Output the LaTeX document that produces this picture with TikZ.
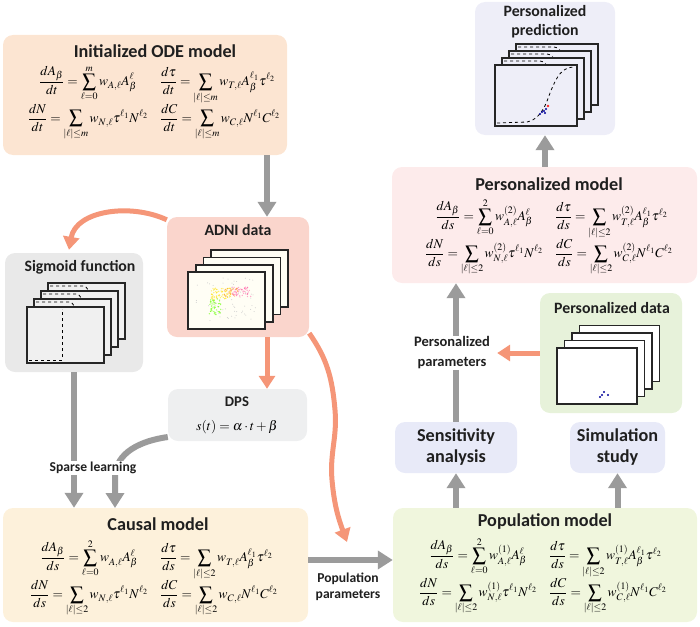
\documentclass[tikz,border=0pt]{standalone}
\usepackage{mathptmx}
\usepackage{array}
\usepackage{fontspec}
\setsansfont{Carlito}
\usepackage{tikz}
\usetikzlibrary{arrows.meta}
\usetikzlibrary{calc}
\usetikzlibrary{positioning}

\definecolor{initc}{RGB}{252,229,210}
\definecolor{adnic}{RGB}{250,213,204}
\definecolor{sigc}{RGB}{233,233,233}
\definecolor{dpsc}{RGB}{238,239,240}
\definecolor{causc}{RGB}{253,241,219}
\definecolor{popc}{RGB}{240,246,221}
\definecolor{sensc}{RGB}{232,234,248}
\definecolor{pdatac}{RGB}{231,242,218}
\definecolor{pmodc}{RGB}{253,235,235}
\definecolor{predc}{RGB}{238,238,248}
\definecolor{arrgray}{RGB}{155,155,155}
\definecolor{arrorange}{RGB}{245,150,120}

% one ODE system: time variable, bound, weight superscript
\newcommand\odesys[3]{%
  $\begin{array}{>{\displaystyle}c@{\hspace{12pt}}>{\displaystyle}l}
    \frac{dA_\beta}{d#1}=\sum_{\ell=0}^{#2} w^{#3}_{A,\ell}A_\beta^{\ell} &
    \frac{d\tau}{d#1}=\sum_{|\ell|\le #2} w^{#3}_{T,\ell}A_\beta^{\ell_1}\tau^{\ell_2}\\[9pt]
    \frac{dN}{d#1}=\sum_{|\ell|\le #2} w^{#3}_{N,\ell}\tau^{\ell_1}N^{\ell_2} &
    \frac{dC}{d#1}=\sum_{|\ell|\le #2} w^{#3}_{C,\ell}N^{\ell_1}C^{\ell_2}
  \end{array}$}

\tikzset{
  box/.style={rounded corners=10pt, inner sep=0pt},
  ttl/.style={font=\sffamily\bfseries\fontsize{18.2}{21}\selectfont, text=black!88, align=center},
  sub/.style={font=\sffamily\bfseries\fontsize{15.8}{19}\selectfont, text=black!88, align=center},
  lbl/.style={font=\sffamily\bfseries\fontsize{14}{16}\selectfont, text=black!88, align=center, fill=white, inner sep=1pt},
  eqs/.style={font=\fontsize{13.4}{15}\selectfont, inner sep=0pt},
  grayarrow/.style={draw=arrgray, line width=6pt, -{Triangle[length=15pt,width=18pt]}},
  orangearrow/.style={draw=arrorange, line width=5pt, -{Triangle[length=13pt,width=16pt]}},
  frame/.style={draw=black!85, line width=1.8pt},
}

\begin{document}
\begin{tikzpicture}[x=1pt,y=-1pt]

      \useasboundingbox (0,0) rectangle (700,626);

      % boxes
      \node [box, fill=initc, minimum width=284pt, minimum height=120pt] (init) at (145,95) {};
      \node [box, fill=adnic, minimum width=142pt, minimum height=120pt] (adni) at (238,277) {};
      \node [box, fill=sigc, minimum width=138pt, minimum height=119pt] (sigm) at (74,312.5) {};
      \node [box, fill=dpsc, minimum width=139pt, minimum height=52pt] (dps) at (237.5,415) {};
      \node [box, fill=causc, minimum width=305pt, minimum height=114pt] (causal) at (155.5,565) {};
      \node [box, fill=popc, minimum width=304pt, minimum height=114pt] (popu) at (545,565) {};
      \node [box, fill=sensc, minimum width=122pt, minimum height=51pt] (sens) at (456,447.5) {};
      \node [box, fill=sensc, minimum width=95pt, minimum height=51pt] (simu) at (617.5,447.5) {};
      \node [box, fill=pdatac, minimum width=142pt, minimum height=120pt] (pdata) at (611,353) {};
      \node [box, fill=pmodc, minimum width=305pt, minimum height=116pt] (pmodel) at (544.5,225) {};
      \node [box, fill=predc, minimum width=140pt, minimum height=133pt] (pred) at (545,68.5) {};

      % titles and equations
      \node [ttl] (initttl) at (155,51) {Initialized ODE model};
      \node [eqs] (initeq) at (154,103) {\odesys{t}{m}{}};
      \node [ttl] (causttl) at (158,524) {Causal model};
      \node [eqs] (causeq) at (154,578) {\odesys{s}{2}{}};
      \node [ttl] (popttl) at (545,522) {Population model};
      \node [eqs] (popeq) at (543,576) {\odesys{s}{2}{(1)}};
      \node [ttl] (pmodttl) at (549,184) {Personalized model};
      \node [eqs] (pmodeq) at (549,237) {\odesys{s}{2}{(2)}};
      \node [sub] (adnittl) at (238,230) {ADNI data};
      \node [sub] (sigttl) at (80,267) {Sigmoid function};
      \node [sub, font=\sffamily\bfseries\fontsize{14.7}{17}\selectfont] (dpsttl) at (237,402) {DPS};
      \node [eqs, font=\fontsize{13.5}{15}\selectfont] (dpseq) at (237,427) {$s(t)=\alpha\cdot t+\beta$};
      \node [sub] (pdatattl) at (612,308) {Personalized data};
      \node [sub, font=\sffamily\bfseries\fontsize{15.8}{19}\selectfont] (predttl) at (545,22) {Personalized\\prediction};
      \node [ttl] (sensttl) at (456,447.5) {Sensitivity\\analysis};
      \node [ttl] (simuttl) at (617.5,447.5) {Simulation\\study};

      % ADNI data frames
      \foreach \k in {3,2,1,0}
        \filldraw [frame, fill=yellow!4] ({188+7.7*\k},{272-7.3*\k}) rectangle ++(77,57);
      \pgfmathsetseed{11}
      \foreach \i in {1,...,60}
        \fill [black!20] ({226+30*rand},{300+22*rand}) circle (0.5);
      \foreach \i in {1,...,70}
        \fill [yellow!85!orange, opacity=0.6] ({221+10*rand},{294+6*rand}) circle (0.7);
      \foreach \i in {1,...,50}
        \fill [green!60!yellow, opacity=0.6] ({215+6*rand},{307+8*rand}) circle (0.7);
      \foreach \i in {1,...,55}
        \fill [red!55!magenta!70, opacity=0.5] ({241+10*rand},{292+5*rand}) circle (0.7);
      \foreach \i in {1,...,25}
        \fill [orange!80, opacity=0.6] ({231+7*rand},{292+5*rand}) circle (0.7);

      % sigmoid frames
      \foreach \k in {3,2,1} {
        \filldraw [frame, fill=black!6] ({27+7*\k},{307-8*\k}) rectangle ++(77,56);
        \draw [dashed, thick] ({29+7*\k},{310-8*\k}) -- ++(33,0) to[out=0,in=90] ++(6,10);
      }
      \filldraw [frame, fill=black!6] (27,307) rectangle ++(77,56);
      \draw [dashed, thick] (29,360) -- (62,360) -- (62,309);

      % prediction frames
      \foreach \k in {3,2,1} {
        \filldraw [frame, fill=predc] ({495+7*\k},{65-7*\k}) rectangle ++(82,61);
        \draw [dashed, thick] ({497+7*\k},{68-7*\k}) -- ++(36,0) to[out=0,in=100] ++(8,9);
      }
      \filldraw [frame, fill=predc] (495,65) rectangle ++(82,61);
      \draw [dashed, thick] (497,123) -- (527,122)
        .. controls (545,118) and (548,95) .. (553,86)
        .. controls (559,72) and (565,67) .. (575,67);
      \foreach \p in {(540,114),(542,112),(544,111),(545,113),(546,109)}
        \fill [blue!60!black] \p circle (1.1);
      \fill [red!85] (548,106) circle (1.4);

      % personalized data frames
      \foreach \k in {3,2,1,0}
        \filldraw [frame, fill=white] ({557+7.5*\k},{348-7.5*\k}) rectangle ++(80,56);
      \foreach \p in {(600,397),(602,395),(604,392),(608,395)}
        \fill [blue!60!black] \p circle (1.1);

      % gray connectors
      \coordinate (adnitop) at ([xshift=29pt]adni.north);
      \draw [grayarrow] (init.south -| adnitop) -- (adnitop);
      \draw [grayarrow] (sigm.south) -- (sigm.south |- causal.north);
      \coordinate (dpsend) at (115,508);
      \draw [grayarrow] ([yshift=-22pt]dps.west) to[out=188,in=90] ([yshift=30pt]dpsend) -- (dpsend);
      \draw [grayarrow] ([yshift=5pt]causal.east) -- ([yshift=5pt]popu.west);
      \draw [grayarrow] (popu.north -| sens.south) -- (sens.south);
      \draw [grayarrow] (popu.north -| simu.south) -- (simu.south);
      \draw [grayarrow] (sens.north) -- (sens.north |- pmodel.south);
      \draw [grayarrow] (pmodel.north -| pred.south) -- (pred.south);

      % labels on connectors
      \node [lbl, font=\sffamily\bfseries\fontsize{13.6}{16}\selectfont] (sparse) at (93,468) {Sparse learning};
      \node [lbl, font=\sffamily\bfseries\fontsize{13.6}{16}\selectfont, fill=none] (poppar) at (348,587) {Population\\parameters};
      \node [lbl, font=\sffamily\bfseries\fontsize{14.5}{20}\selectfont] (ppar) at (452,353) {Personalized\\parameters};

      % orange connectors
      \coordinate (adnibot) at ([xshift=29pt]adni.south);
      \draw [orangearrow] (adnibot) -- (adnibot |- dps.north);
      \draw [orangearrow] ([yshift=-3pt]adni.north west) to[out=155,in=80] ([xshift=-5pt,yshift=3pt]sigm.north);
      \coordinate (popin) at (347,542);
      \draw [orangearrow] ([yshift=4pt]adni.south east) to[out=-55,in=95] (335,410)
        to[out=-85,in=95] (332,480) to[out=-85,in=110] (popin);
      \draw [orangearrow] (pdata.west) -- ([xshift=6pt]ppar.east);

    \end{tikzpicture}
\end{document}
